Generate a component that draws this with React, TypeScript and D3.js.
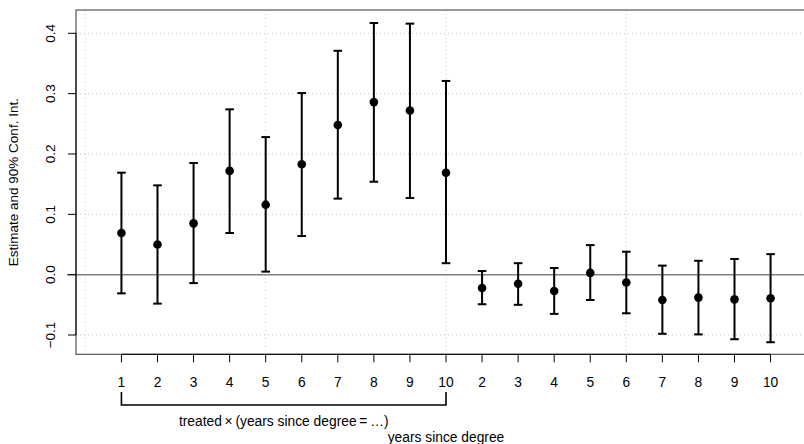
import React, { useEffect, useRef } from "react";
import * as d3 from "d3";

const tickLabels = ["1", "2", "3", "4", "5", "6", "7", "8", "9", "10", "2", "3", "4", "5", "6", "7", "8", "9", "10"];
const estimates = [0.069, 0.050, 0.085, 0.172, 0.116, 0.183, 0.248, 0.286, 0.272, 0.169,
  -0.022, -0.015, -0.027, 0.003, -0.013, -0.042, -0.038, -0.041, -0.039];
const lower = [-0.031, -0.048, -0.014, 0.069, 0.005, 0.064, 0.126, 0.154, 0.127, 0.019,
  -0.049, -0.050, -0.065, -0.042, -0.064, -0.098, -0.099, -0.107, -0.112];
const upper = [0.169, 0.148, 0.185, 0.274, 0.228, 0.301, 0.371, 0.417, 0.416, 0.321,
  0.006, 0.019, 0.011, 0.049, 0.038, 0.015, 0.023, 0.026, 0.034];
const yTicks = [-0.1, 0.0, 0.1, 0.2, 0.3, 0.4];
const xGrid = [0, 5, 10, 15];

const font = "'Liberation Sans', Arial, sans-serif";

export default function App() {
  const ref = useRef<SVGSVGElement>(null);

  useEffect(() => {
    const svg = d3.select(ref.current);
    svg.selectAll("*").remove();

    const left = 76, right = 816, top = 10, bottom = 354.3;

    const x = d3.scaleLinear().domain([-0.26, 20.26]).range([left, right]);
    const y = d3.scaleLinear().domain([-0.1, 0.4]).range([335, 33.3]);

    const grid = svg.append("g");
    grid.selectAll("line.h")
      .data(yTicks.filter(d => d !== 0))
      .enter().append("line")
        .attr("x1", left).attr("x2", right)
        .attr("y1", d => y(d)).attr("y2", d => y(d))
        .attr("stroke", "#c8c8c8")
        .attr("stroke-dasharray", "1,3");
    grid.selectAll("line.v")
      .data(xGrid)
      .enter().append("line")
        .attr("x1", d => x(d)).attr("x2", d => x(d))
        .attr("y1", top).attr("y2", bottom)
        .attr("stroke", "#c8c8c8")
        .attr("stroke-dasharray", "1,3");

    // zero reference line
    svg.append("line")
      .attr("x1", 67).attr("x2", right)
      .attr("y1", y(0)).attr("y2", y(0))
      .attr("stroke", "#808080")
      .attr("stroke-width", 1.5);

    // box (right side falls outside the picture)
    svg.append("rect")
      .attr("x", left).attr("y", top)
      .attr("width", right - left).attr("height", bottom - top)
      .attr("fill", "none")
      .attr("stroke", "#555")
      .attr("stroke-width", 1.2);

    // y axis
    svg.append("line")
      .attr("x1", left).attr("x2", left)
      .attr("y1", y(-0.1)).attr("y2", y(0.4))
      .attr("stroke", "#000");
    const yAxis = svg.selectAll("g.ytick")
      .data(yTicks)
      .enter().append("g");
    yAxis.append("line")
      .attr("x1", left - 8).attr("x2", left)
      .attr("y1", d => y(d)).attr("y2", d => y(d))
      .attr("stroke", "#000");
    yAxis.append("text")
      .attr("transform", d => `translate(55, ${y(d)}) rotate(-90)`)
      .attr("text-anchor", "middle")
      .attr("font-family", font)
      .attr("font-size", 13.5)
      .text(d => d3.format(".1f")(d).replace("-", "\u2212"));

    svg.append("text")
      .attr("transform", `translate(18, ${(top + bottom) / 2}) rotate(-90)`)
      .attr("text-anchor", "middle")
      .attr("font-family", font)
      .attr("font-size", 13.5)
      .text("Estimate and 90% Conf. Int.");

    // x axis
    svg.append("line")
      .attr("x1", x(1)).attr("x2", x(19))
      .attr("y1", bottom).attr("y2", bottom)
      .attr("stroke", "#000");
    const xAxis = svg.selectAll("g.xtick")
      .data(tickLabels)
      .enter().append("g");
    xAxis.append("line")
      .attr("x1", (d, i) => x(i + 1)).attr("x2", (d, i) => x(i + 1))
      .attr("y1", bottom).attr("y2", bottom + 8)
      .attr("stroke", "#000");
    xAxis.append("text")
      .attr("x", (d, i) => x(i + 1))
      .attr("y", 387)
      .attr("text-anchor", "middle")
      .attr("font-family", font)
      .attr("font-size", 13.8)
      .text(d => d);

    // bracket under the treated terms
    svg.append("path")
      .attr("d", `M${x(1)},392V405H${x(10)}V392`)
      .attr("fill", "none")
      .attr("stroke", "#000")
      .attr("stroke-width", 1.6);
    svg.append("text")
      .attr("x", (x(1) + x(10)) / 2)
      .attr("y", 425.5)
      .attr("text-anchor", "middle")
      .attr("font-family", font)
      .attr("font-size", 13.8)
      .text("treated\u2009\u00d7\u2009(years since degree\u2009=\u2009\u2026)");
    svg.append("text")
      .attr("x", (left + right) / 2)
      .attr("y", 441.5)
      .attr("text-anchor", "middle")
      .attr("font-family", font)
      .attr("font-size", 13.8)
      .text("years since degree");

    // error bars
    const bars = svg.selectAll("g.bar")
      .data(estimates)
      .enter().append("g")
        .attr("stroke", "#000")
        .attr("stroke-width", 2);
    bars.append("line")
      .attr("x1", (d, i) => x(i + 1)).attr("x2", (d, i) => x(i + 1))
      .attr("y1", (d, i) => y(lower[i])).attr("y2", (d, i) => y(upper[i]));
    bars.append("line")
      .attr("x1", (d, i) => x(i + 1) - 4.3).attr("x2", (d, i) => x(i + 1) + 4.3)
      .attr("y1", (d, i) => y(lower[i])).attr("y2", (d, i) => y(lower[i]));
    bars.append("line")
      .attr("x1", (d, i) => x(i + 1) - 4.3).attr("x2", (d, i) => x(i + 1) + 4.3)
      .attr("y1", (d, i) => y(upper[i])).attr("y2", (d, i) => y(upper[i]));
    bars.append("circle")
      .attr("cx", (d, i) => x(i + 1))
      .attr("cy", d => y(d))
      .attr("r", 4.3)
      .attr("fill", "#000")
      .attr("stroke", "none");
  }, []);

  return (
    <svg ref={ref} width={804} height={444}
      style={{ position: "absolute", left: 0, top: 0, background: "#fff" }} />
  );
}
